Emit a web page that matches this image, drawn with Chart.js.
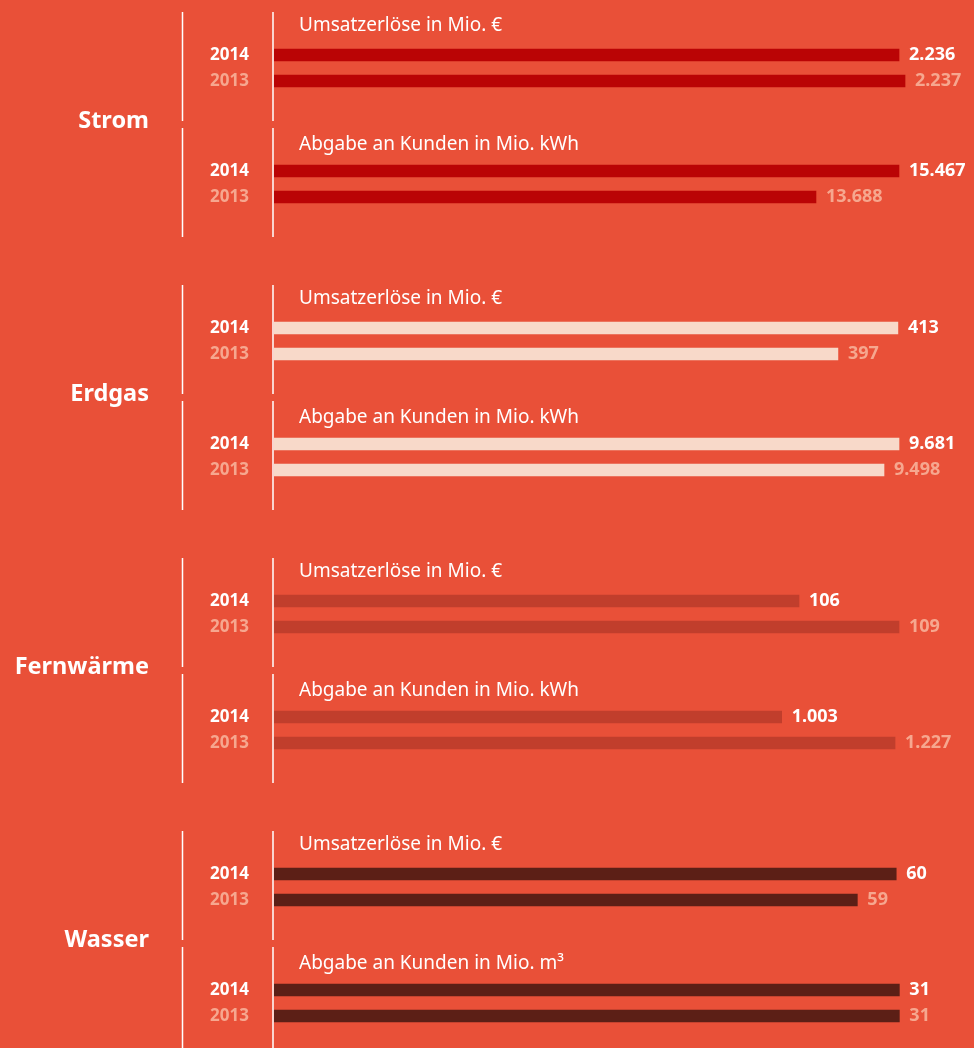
<!DOCTYPE html>
<html>
<head>
<meta charset="utf-8">
<script src="https://cdn.jsdelivr.net/npm/chart.js@4"></script>
<style>
  body { margin: 0; background: #E95038; width: 974px; height: 1048px; overflow: hidden; position: relative; font-family: "Noto Sans", sans-serif; }
  canvas.panel { position: absolute; left: 0; }
  .group { position: absolute; left: 0; width: 149px; text-align: right; color: #fff; font-weight: bold; font-size: 23.5px; line-height: 30px; }
</style>
</head>
<body>
<script>
// data
const groups = ['Strom', 'Erdgas', 'Fernwärme', 'Wasser'];
const years = ['2014', '2013'];
const salesTitles = ['Umsatzerlöse in Mio. €', 'Umsatzerlöse in Mio. €', 'Umsatzerlöse in Mio. €', 'Umsatzerlöse in Mio. €'];
const deliveryTitles = ['Abgabe an Kunden in Mio. kWh', 'Abgabe an Kunden in Mio. kWh', 'Abgabe an Kunden in Mio. kWh', 'Abgabe an Kunden in Mio. m³'];
const sales2014 = [2236, 413, 106, 60];
const sales2013 = [2237, 397, 109, 59];
const delivery2014 = [15467, 9681, 1003, 31];
const delivery2013 = [13688, 9498, 1227, 31];
// axis ranges as drawn in the original (bars are not zero based)
const salesAxisMin = [2131.8, 246.6, 90.25, 44];
const salesAxisMax = [2248.5, 433.3, 111.25, 62];
const deliveryAxisMin = [2071, 2056, 0, 0];
const deliveryAxisMax = [17075, 10596, 1383, 34.7];

const barColors = ['#BA0405', '#F8D9C9', '#C13E2C', '#5C1F16'];
const yearColors = ['#FFFFFF', '#F6A78F'];
const groupTops = [12, 285, 558, 831];

function fmt(v) {
  return String(v).replace(/\B(?=(\d{3})+(?!\d))/g, '.');
}

const panelDecor = {
  id: 'panelDecor',
  afterDraw(chart) {
    const ctx = chart.ctx;
    const o = chart.options.plugins.panelDecor;
    ctx.save();
    ctx.strokeStyle = '#FFFFFF';
    ctx.lineWidth = 1.5;
    ctx.beginPath();
    ctx.moveTo(182.5, 0); ctx.lineTo(182.5, 109);
    ctx.moveTo(273, 0); ctx.lineTo(273, 109);
    ctx.stroke();

    ctx.fillStyle = '#FFFFFF';
    ctx.font = '19px "Noto Sans"';
    ctx.textBaseline = 'alphabetic';
    ctx.textAlign = 'left';
    ctx.fillText(o.title, 299, o.titleY);

    ctx.font = 'bold 18px "Noto Sans"';
    ctx.textBaseline = 'middle';
    const meta = chart.getDatasetMeta(0);
    meta.data.forEach((bar, i) => {
      ctx.fillStyle = yearColors[i];
      ctx.fillText(fmt(chart.data.datasets[0].data[i]), bar.x + 10, bar.y);
    });
    ctx.restore();
  }
};

function makePanel(top, values, min, max, color, title, titleY) {
  const canvas = document.createElement('canvas');
  canvas.className = 'panel';
  canvas.width = 974;
  canvas.height = 110;
  canvas.style.top = top + 'px';
  document.body.appendChild(canvas);

  new Chart(canvas, {
    type: 'bar',
    data: {
      labels: years,
      datasets: [{
        data: values,
        backgroundColor: color,
        borderWidth: 0,
        barThickness: 12
      }]
    },
    options: {
      indexAxis: 'y',
      responsive: false,
      animation: false,
      layout: { padding: { top: 30, bottom: 28, left: 0, right: 0 } },
      plugins: {
        legend: { display: false },
        tooltip: { enabled: false },
        panelDecor: { title: title, titleY: titleY }
      },
      scales: {
        x: { display: false, min: min, max: max },
        y: {
          grid: { display: false, drawTicks: false },
          border: { display: false },
          ticks: {
            padding: 25,
            color: (c) => yearColors[c.index],
            font: { family: '"Noto Sans"', size: 17, weight: 'bold' }
          },
          afterFit(scale) {
            scale.width = 274;
            scale.paddingTop = 0;
            scale.paddingBottom = 0;
          }
        }
      }
    },
    plugins: [panelDecor]
  });
}

groups.forEach((name, g) => {
  const t = groupTops[g];
  makePanel(t, [sales2014[g], sales2013[g]], salesAxisMin[g], salesAxisMax[g], barColors[g], salesTitles[g], 19);
  makePanel(t + 116, [delivery2014[g], delivery2013[g]], deliveryAxisMin[g], deliveryAxisMax[g], barColors[g], deliveryTitles[g], 22);

  const label = document.createElement('div');
  label.className = 'group';
  label.style.top = (t + 92) + 'px';
  label.textContent = name;
  document.body.appendChild(label);
});
</script>
</body>
</html>
